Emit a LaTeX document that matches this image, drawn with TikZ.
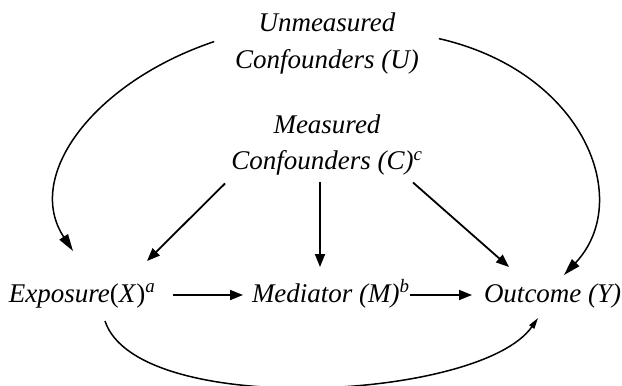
\documentclass[tikz,border=0pt]{standalone}
\usepackage{fontspec}
\setmainfont{Liberation Serif}
\usetikzlibrary{arrows.meta,calc}
\tikzset{
  lbl/.style={inner sep=0pt, outer sep=0pt, font=\fontsize{27}{36.5}\selectfont\itshape},
  lbltwo/.style={lbl, align=center},
  sarr/.style={line width=1.8pt, -{Triangle[length=13pt,width=10pt]}},
  carr/.style={line width=1.5pt, -{Triangle[length=17pt,width=10pt]}},
  barr/.style={line width=1.5pt, -{Triangle[length=11pt,width=6pt]}},
}
\begin{document}
\begin{tikzpicture}[x=1pt,y=-1pt]
\useasboundingbox (0,0) rectangle (622,386);
% nodes
\node[lbltwo] (U) at (327,43.6) {Unmeasured\\Confounders (U)};
\node[lbltwo] (C) at (327,145) {Measured\\Confounders (C)\textsuperscript{c}};
\node[lbl, anchor=base west] (X) at (9,302) {Exposure\textup{(}X\textup{)}\textsuperscript{a}};
\node[lbl, anchor=base west] (M) at (252,302) {Mediator (M)\textsuperscript{b}};
\node[lbl, anchor=base west] (Y) at (484,302) {Outcome (Y)};
% straight arrows from C
\draw[sarr] ($(C.south)+(-102,8)$) -- ($(X.base west)+(138,-41)$);
\draw[sarr] ($(C.south)+(-7,7)$) -- ($(M.base west)+(68,-35)$);
\draw[sarr] ($(C.south)+(86,7)$) -- ($(Y.base west)+(25,-35)$);
% chain
\draw[sarr] ($(X.base west)+(164,-7)$) -- ($(M.base west)+(-9,-7)$);
\draw[sarr] ($(M.base west)+(158,-7)$) -- ($(Y.base west)+(-12,-7)$);
% curved arrows from U
\draw[carr] ($(U.west)+(-21,-2)$) .. controls (94,82) and (23.5,176) .. ($(X.base west)+(64,-51)$);
\draw[carr] ($(U.east)+(20,-5)$) .. controls (585,72) and (634,201) .. ($(Y.base west)+(80,-27)$);
% bottom curve X -> Y
\draw[barr] ($(X.base west)+(96,19)$) .. controls (137,418) and (480,401) .. ($(Y.base west)+(54,16)$);
\end{tikzpicture}
\end{document}
